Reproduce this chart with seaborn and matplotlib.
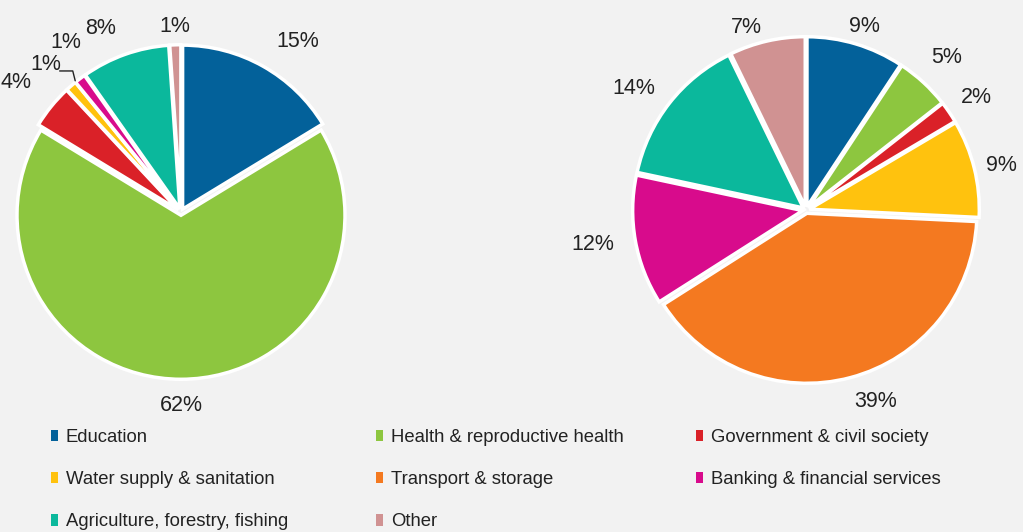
import numpy as np
import matplotlib
matplotlib.use("Agg")
import matplotlib.pyplot as plt
from matplotlib.patches import Patch
import seaborn as sns

sectors = ["Education", "Health & reproductive health", "Government & civil society",
           "Water supply & sanitation", "Transport & storage", "Banking & financial services",
           "Agriculture, forestry, fishing", "Other"]
left_share = [15, 62, 4, 1, 0, 1, 8, 1]
right_share = [9, 5, 2, 9, 39, 12, 14, 7]
sector_colors = ["#03619a", "#8dc63f", "#da2128", "#ffc20e",
                 "#f47920", "#d80b8c", "#0bb89c", "#d09292"]

bg = "#f2f2f2"
txt = "#222222"
sns.set_theme(style="white", rc={"figure.facecolor": bg, "axes.facecolor": bg})
plt.rcParams["font.family"] = ["Liberation Sans", "DejaVu Sans"]
palette = sns.color_palette(sector_colors)

W, H = 1023, 532
fig = plt.figure(figsize=(W / 100, H / 100), dpi=100)


def pie_axes(cx, cy, r):
    # square axes in pixels, limits +-1.3 so radius 1 -> r px
    side = 2.6 * r
    return fig.add_axes([(cx - side / 2) / W, (H - cy - side / 2) / H, side / W, side / H])


def draw_pie(ax, shares, label_dist, label_turn):
    idx = [i for i, v in enumerate(shares) if v > 0]
    vals = [shares[i] for i in idx]
    cols = [palette[i] for i in idx]
    wedges, _ = ax.pie(vals, colors=cols, startangle=90, counterclock=False,
                       explode=[0.02] * len(vals), radius=1.0,
                       wedgeprops=dict(edgecolor="white", linewidth=2.5))
    ax.set_xlim(-1.3, 1.3)
    ax.set_ylim(-1.3, 1.3)
    ax.set_aspect("equal")
    ax.axis("off")
    for k, (w, v) in enumerate(zip(wedges, vals)):
        ang = np.deg2rad((w.theta1 + w.theta2) / 2 - label_turn[k])
        d = label_dist[k]
        ax.text(d * np.cos(ang), d * np.sin(ang), f"{v}%", ha="center", va="center",
                fontsize=15.5, color=txt)
    return wedges


# left pie
axl = pie_axes(181, 212, 164)
draw_pie(axl, left_share,
         [1.26, 1.18, 1.28, 1.22, 1.25, 1.22, 1.13],
         [5, 0, -1, -1.5, 3, -4, 0])
# leader line for the small water slice
axl.plot([-0.74, -0.66, -0.645], [0.86, 0.86, 0.80], color=txt, lw=1)

# right pie
axr = pie_axes(806, 210, 170)
draw_pie(axr, right_share,
         [1.13, 1.22, 1.2, 1.18, 1.2, 1.27, 1.24, 1.13],
         [1, 0, 1, 1, -5, 1, -3, -5])

# legend: three columns, row-major order as in the source
columns = [[0, 3, 6], [1, 4, 7], [2, 5]]
col_x = [51, 376, 696]
for cols, x in zip(columns, col_x):
    handles = [Patch(facecolor=palette[i], edgecolor="none") for i in cols]
    labels = [sectors[i] for i in cols]
    fig.legend(handles, labels, loc="upper left", bbox_to_anchor=(x / W, 1 - 429 / H),
               frameon=False, fontsize=13.3, handlelength=0.4, handleheight=0.6,
               handletextpad=0.4, labelspacing=1.36, borderpad=0, borderaxespad=0,
               labelcolor=txt)

fig.savefig("out.png", dpi=100, facecolor=bg)
